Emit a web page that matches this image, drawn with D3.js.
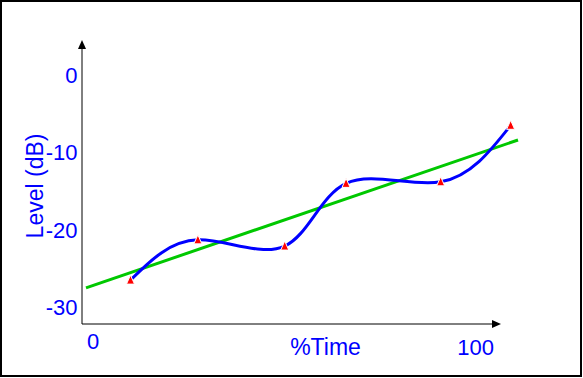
<!DOCTYPE html>
<html>
<head>
<meta charset="utf-8">
<script src="https://cdn.jsdelivr.net/npm/d3@7"></script>
<style>
  body { margin: 0; background: #fff; }
  text { font-family: Arial, "Liberation Sans", sans-serif; fill: #0000ff; }
</style>
</head>
<body>
<svg class="chart"></svg>
<script>
"use strict";
// measured points (percent of time, level in dB)
var timePct = [10.3, 25.9, 46.0, 60.2, 82.1, 98.3];
var levelDb = [-26.5, -21.3, -22.1, -14.0, -13.8, -6.5];
// fitted trend line, end points
var trendPct = [0, 100];
var trendDb = [-27.5, -8.4];
var yTicks = [0, -10, -20, -30];
var xTickLabels = ["0", "100"];

document.addEventListener("DOMContentLoaded", function () {
    var svgWidth = 583, svgHeight = 378;
    var svg = d3.select(".chart")
        .attr("width", svgWidth)
        .attr("height", svgHeight);

    var x = d3.scaleLinear().domain([0, 100]).range([86, 518]);
    var y = d3.scaleLinear().domain([0, -30]).range([75, 307.2]);
    var axisX = 82, axisY = 324;

    // frame
    svg.append("rect")
        .attr("x", 1).attr("y", 1)
        .attr("width", svgWidth - 3).attr("height", svgHeight - 3)
        .attr("fill", "none").attr("stroke", "#000").attr("stroke-width", 2);

    // axes with arrow heads
    svg.append("line")
        .attr("x1", axisX).attr("y1", axisY).attr("x2", axisX).attr("y2", 44)
        .attr("stroke", "#000");
    svg.append("path")
        .attr("d", "M" + axisX + ",40 l-4,9 l8,0 z").attr("fill", "#000");
    svg.append("line")
        .attr("x1", axisX).attr("y1", axisY).attr("x2", 496).attr("y2", axisY)
        .attr("stroke", "#000");
    svg.append("path")
        .attr("d", "M501," + axisY + " l-9,-4 l0,8 z").attr("fill", "#000");

    // y tick labels
    svg.selectAll("text.ytick")
        .data(yTicks)
        .enter()
        .append("text")
        .attr("class", "ytick")
        .attr("x", 77.5)
        .attr("y", function (d) { return y(d) + 8; })
        .attr("text-anchor", "end")
        .style("font-size", "22px")
        .text(function (d) { return d; });

    // x tick labels
    svg.append("text")
        .attr("x", 87).attr("y", 348.5)
        .style("font-size", "22px")
        .text(xTickLabels[0]);
    svg.append("text")
        .attr("x", 494).attr("y", 355)
        .attr("text-anchor", "end")
        .style("font-size", "22px")
        .text(xTickLabels[1]);

    // axis titles
    svg.append("text")
        .attr("x", 325.5).attr("y", 355)
        .attr("text-anchor", "middle")
        .style("font-size", "23px")
        .text("%Time");
    svg.append("text")
        .attr("transform", "translate(43,186) rotate(-90)")
        .attr("text-anchor", "middle")
        .style("font-size", "23px")
        .text("Level (dB)");

    var pts = timePct.map(function (t, i) { return [t, levelDb[i]]; });
    var trend = trendPct.map(function (t, i) { return [t, trendDb[i]]; });

    var line = d3.line()
        .x(function (d) { return x(d[0]); })
        .y(function (d) { return y(d[1]); });

    svg.append("path")
        .datum(trend)
        .attr("d", line)
        .attr("fill", "none")
        .attr("stroke", "#00c800")
        .attr("stroke-width", 3);

    svg.append("path")
        .datum(pts)
        .attr("d", line.curve(d3.curveNatural))
        .attr("fill", "none")
        .attr("stroke", "#0000ff")
        .attr("stroke-width", 3);

    svg.selectAll("path.marker")
        .data(pts)
        .enter()
        .append("path")
        .attr("class", "marker")
        .attr("d", "M0,-5 L4,4 L-4,4 Z")
        .attr("transform", function (d) {
            return "translate(" + x(d[0]) + "," + y(d[1]) + ")";
        })
        .attr("fill", "#ff0000")
        .attr("stroke", "#fff")
        .attr("stroke-width", 1);
});
</script>
</body>
</html>
